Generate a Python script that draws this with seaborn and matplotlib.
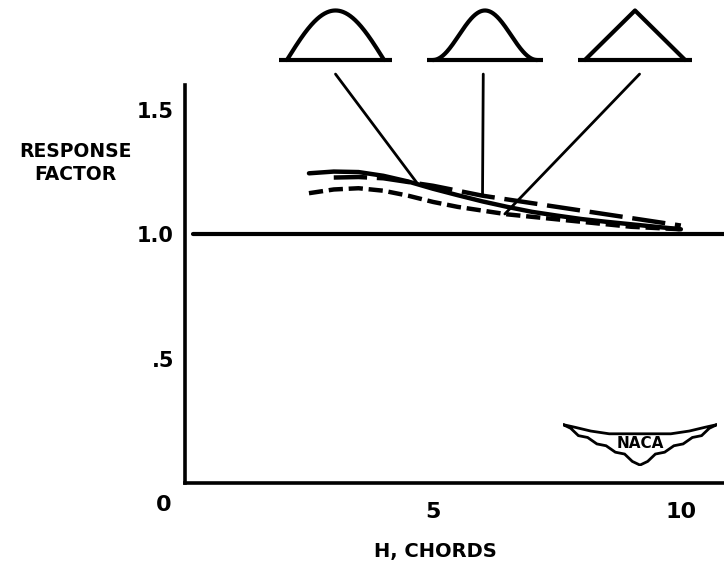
import numpy as np
import pandas as pd
import matplotlib
matplotlib.use("Agg")
import matplotlib.pyplot as plt
import seaborn as sns
from matplotlib.patches import ConnectionPatch, Polygon

# ---- data ----
h_half_sine = [2.5, 3.0, 3.5, 4.0, 4.5, 5.0, 5.5, 6.0, 6.5, 7.0, 7.5, 8.0, 8.5, 9.0, 9.5, 10.0]
rf_half_sine = [1.245, 1.252, 1.250, 1.235, 1.212, 1.183, 1.157, 1.132, 1.110, 1.090, 1.075, 1.061, 1.050, 1.040, 1.030, 1.020]

h_versed_sine = [3.0, 3.5, 4.0, 4.5, 5.0, 5.5, 6.0, 6.5, 7.0, 7.5, 8.0, 8.5, 9.0, 9.5, 10.0]
rf_versed_sine = [1.228, 1.230, 1.225, 1.210, 1.195, 1.175, 1.155, 1.140, 1.125, 1.110, 1.095, 1.080, 1.065, 1.050, 1.035]

h_triangle = [2.5, 3.0, 3.5, 4.0, 4.5, 5.0, 5.5, 6.0, 6.5, 7.0, 7.5, 8.0, 8.5, 9.0, 9.5, 10.0]
rf_triangle = [1.165, 1.180, 1.185, 1.175, 1.155, 1.130, 1.110, 1.095, 1.080, 1.070, 1.060, 1.050, 1.040, 1.030, 1.025, 1.020]

pulse_names = ["Half sine", "Versed sine", "Triangle"]
x_ticks = [2.5, 5, 7.5, 10]
x_tick_labels = ["", "5", "", "10"]
y_ticks = [0.5, 1.0, 1.5]
y_tick_labels = [".5", "1.0", "1.5"]
reference_level = 1.0

df = pd.concat([
    pd.DataFrame({"H": h_half_sine, "RF": rf_half_sine, "pulse": pulse_names[0]}),
    pd.DataFrame({"H": h_versed_sine, "RF": rf_versed_sine, "pulse": pulse_names[1]}),
    pd.DataFrame({"H": h_triangle, "RF": rf_triangle, "pulse": pulse_names[2]}),
], ignore_index=True)

sns.set_theme(style="white")
plt.rcParams["font.family"] = ["DejaVu Sans"]
plt.rcParams["font.weight"] = "bold"
plt.rcParams["text.color"] = "black"
plt.rcParams["axes.labelcolor"] = "black"
plt.rcParams["xtick.color"] = "black"
plt.rcParams["ytick.color"] = "black"

fig = plt.figure(figsize=(7.24, 5.70), dpi=100)
ax = fig.add_axes([185 / 724, 1 - 483 / 570, 539 / 724, 398 / 570])

sns.lineplot(data=df, x="H", y="RF", style="pulse",
             dashes={pulse_names[0]: "", pulse_names[1]: (7.5, 2.2), pulse_names[2]: (3.2, 1.3)},
             color="black", lw=3.2, legend=False, ax=ax, sort=False, estimator=None)

ax.axhline(reference_level, xmin=0.014, xmax=1.0, color="black", lw=3.0)

ax.set_xlim(0, 10.87)
ax.set_ylim(0, 1.6)
for s in ["top", "right"]:
    ax.spines[s].set_visible(False)
for s in ["left", "bottom"]:
    ax.spines[s].set_color("black")
    ax.spines[s].set_linewidth(2.6)

ax.set_xticks(x_ticks)
ax.set_xticklabels(x_tick_labels, fontsize=16, fontweight="bold", color="black")
ax.set_yticks(y_ticks)
ax.set_yticklabels(y_tick_labels, fontsize=15, fontweight="bold", color="black")
ax.tick_params(axis="x", direction="out", length=8, width=2.6, pad=6, colors="black")
ax.tick_params(axis="y", direction="out", length=6, width=2.6, pad=2, colors="black")
ax.set_xlabel("")
ax.set_ylabel("")
ax.text(-0.42, -0.09, "0", fontsize=16, fontweight="bold", ha="center", va="center",
        color="black", transform=ax.transData, clip_on=False)

fig.text(75 / 724, 1 - 163 / 570, "RESPONSE\nFACTOR", fontsize=13.5, fontweight="bold",
         ha="center", va="center", linespacing=1.25, color="black")
fig.text(435 / 724, 1 - 551 / 570, "H, CHORDS", fontsize=14, fontweight="bold",
         ha="center", va="center", color="black")

# ---- pulse shape insets ----
def make_inset(left_px, right_px):
    a = fig.add_axes([left_px / 724, 1 - 64 / 570, (right_px - left_px) / 724, 56 / 570])
    a.set_xlim(0, 1)
    a.set_ylim(-0.08, 1.05)
    a.axis("off")
    return a

ins1 = make_inset(279, 392)
t = np.linspace(0, 1, 200)
ins1.plot([0, 1], [0, 0], color="black", lw=3.0, solid_capstyle="butt")
ins1.plot(0.07 + 0.86 * t, np.sin(np.pi * t), color="black", lw=3.0)

ins2 = make_inset(427, 543)
ins2.plot([0, 1], [0, 0], color="black", lw=3.0, solid_capstyle="butt")
ins2.plot(0.05 + 0.90 * t, 0.5 * (1 - np.cos(2 * np.pi * t)), color="black", lw=3.0)

ins3 = make_inset(578, 692)
ins3.plot([0, 1], [0, 0], color="black", lw=3.0, solid_capstyle="butt")
ins3.plot([0.06, 0.5, 0.94], [0, 1, 0], color="black", lw=3.0)

leaders = [
    (ins1, 0.50, 4.7, h_half_sine, rf_half_sine),
    (ins2, 0.485, 6.0, h_versed_sine, rf_versed_sine),
    (ins3, 0.54, 6.45, h_triangle, rf_triangle),
]
for ins, xa, hb, hs, rfs in leaders:
    yb = float(np.interp(hb, hs, rfs))
    cp = ConnectionPatch(xyA=(xa, -0.18), coordsA=ins.transAxes,
                         xyB=(hb, yb), coordsB=ax.transData,
                         color="black", lw=2.0)
    fig.add_artist(cp)

# ---- NACA emblem ----
logo = fig.add_axes([563 / 724, 1 - 466 / 570, 154 / 724, 46 / 570])
logo.set_xlim(0, 1)
logo.set_ylim(0, 1)
logo.axis("off")
upper = [(0.0, 0.9), (0.08, 0.84), (0.18, 0.76), (0.3, 0.70), (0.7, 0.70), (0.82, 0.76), (0.92, 0.84), (1.0, 0.9)]
lower = [(0.95, 0.82), (0.90, 0.66), (0.84, 0.62), (0.78, 0.48), (0.72, 0.44), (0.66, 0.30),
         (0.60, 0.26), (0.55, 0.10), (0.5, 0.02), (0.45, 0.10), (0.40, 0.26), (0.34, 0.30),
         (0.28, 0.44), (0.22, 0.48), (0.16, 0.62), (0.10, 0.66), (0.05, 0.82)]
logo.add_patch(Polygon(upper + lower, closed=True, facecolor="white", edgecolor="black", lw=2.0))
logo.text(0.5, 0.5, "NACA", fontsize=11, fontweight="bold", ha="center", va="center", color="black")

fig.savefig("out.png", dpi=100, facecolor="white")
